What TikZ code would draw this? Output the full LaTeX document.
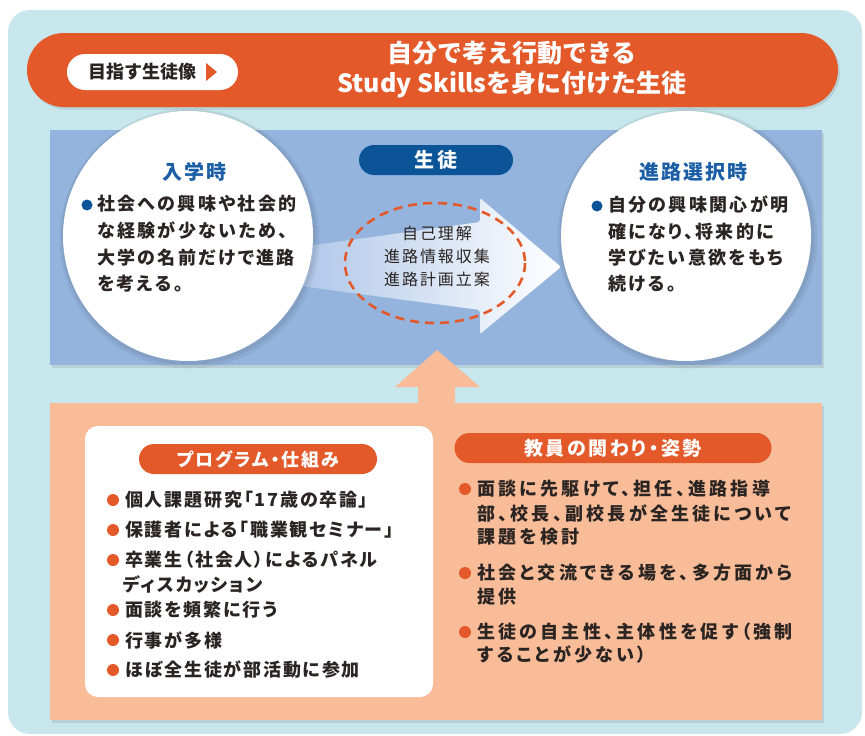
\documentclass[tikz,border=0pt]{standalone}
\usepackage{fontspec}
\usetikzlibrary{shadows}
\setmainfont{Noto Sans CJK JP}
\newfontfamily\jpa{Noto Sans CJK JP}[RawFeature=+palt, LetterSpace=10]
\newfontfamily\jpk{Noto Sans CJK JP}[RawFeature=+palt, LetterSpace=13]
\newfontfamily\jpr{Noto Sans CJK JP}[RawFeature=+palt, LetterSpace=18]
\newfontfamily\jpc{Noto Sans CJK JP}[LetterSpace=12]
\newfontfamily\jpt{Noto Sans CJK JP}[LetterSpace=16]
\newfontfamily\jp{Noto Sans CJK JP}
\definecolor{bgblue}{HTML}{C7E7ED}
\definecolor{panelblue}{HTML}{94B4DD}
\definecolor{peach}{HTML}{F9BC98}
\definecolor{orng}{HTML}{E4592A}
\definecolor{dkblue}{HTML}{0B5497}
\definecolor{ttlblue}{HTML}{1B5EA6}
\definecolor{ink}{HTML}{2A2422}
\definecolor{arrowL}{HTML}{AFC7E9}
\newcommand\fsz[1]{\fontsize{#1}{#1}\selectfont}
\begin{document}
\begin{tikzpicture}[x=1pt,y=-1pt,
  every node/.style={inner sep=0pt},
  txtline/.style={anchor=west, font=\jpa\bfseries\fsz{18}, text=ink},
  cline/.style={anchor=west, font=\jpk\bfseries\fsz{18}, text=ink},
  rline/.style={anchor=west, font=\jpr\bfseries\fsz{18}, text=ink},
  pill/.style={fill=orng, rounded corners=15pt, minimum height=30pt, text=white, font=\jp\bfseries\fsz{19}},
  dotO/.style={circle, fill=orng, minimum size=12pt},
  dotB/.style={circle, fill=dkblue, minimum size=11pt},
  bigcirc/.style={circle, fill=white, minimum size=250pt},
  cttl/.style={font=\jpa\bfseries\fsz{20}, text=ttlblue},
  softshadow/.style={drop shadow={opacity=0.22, shadow xshift=2pt, shadow yshift=-2.5pt}}
]
\useasboundingbox (0,0) rectangle (865,736);
\fill[white] (0,0) rectangle (865,736);
% outer background
\fill[bgblue, rounded corners=22pt] (8,10) rectangle (862,734);
% top banner
\fill[orng, rounded corners=37pt, softshadow] (27,33) rectangle (838,107);
\fill[white, rounded corners=18pt] (67,54) rectangle (238,90);
\node[font=\jp\bfseries\fsz{18}, text=ink] (goal) at (142,72) {目指す生徒像};
\fill[orng] (206,63) -- (217,72) -- (206,81) -- cycle;
\node[font=\jp\bfseries\fsz{25}, text=white] (t1) at (512,53) {自分で考え行動できる};
\node[font=\jp\bfseries\fsz{25}, text=white] (t2) at (512,85) {Study Skillsを身に付けた生徒};
% blue panel
\fill[panelblue, softshadow] (50,130) rectangle (822,365);
% gradient arrow
\shade[left color=arrowL, right color=white, rounded corners=2pt]
  (300,247) -- (480,222) -- (480,198) -- (561,267) -- (480,334) -- (480,310) -- (300,286) -- cycle;
% dashed ellipse
\draw[orng, line width=2.6pt, dash pattern=on 9pt off 6pt] (435,263) ellipse [x radius=90, y radius=60];
\node[font=\jpc\fsz{16}, text=ink] (m1) at (437,233) {自己理解};
\node[font=\jpc\fsz{16}, text=ink] (m2) at (437,256) {進路情報収集};
\node[font=\jpc\fsz{16}, text=ink] (m3) at (437,279) {進路計画立案};
% student pill
\node[fill=dkblue, rounded corners=15pt, minimum width=154pt, minimum height=30pt, text=white, font=\jpt\bfseries\fsz{20}] (stu) at (436,160) {生徒};
% circle shadows
\foreach \cx in {188,686} {
  \fill[black, opacity=0.05] (\cx+1.5,238.5) circle[radius=130];
  \fill[black, opacity=0.06] (\cx+1,237.5) circle[radius=127.5];
}
% left circle
\node[bigcirc] (lc) at (188,236) {};
\node[cttl] (lct) at (194,172) {入学時};
\node[dotB] (lb) at (87,205) {};
\foreach \t [count=\i] in {社会への興味や社会的, な経験が少ないため、, 大学の名前だけで進路, を考える。}
  \node[cline] (lt\i) at (97,{204+26.7*(\i-1)}) {\t};
% right circle
\node[bigcirc] (rc) at (686,236) {};
\node[cttl] (rct) at (693,172) {進路選択時};
\node[dotB] (rb) at (597,206) {};
\foreach \t [count=\i] in {自分の興味関心が明, 確になり、将来的に, 学びたい意欲をもち, 続ける。}
  \node[cline] (rt\i) at (608,{205+26.3*(\i-1)}) {\t};
% up arrow
\fill[peach] (437,350) -- (480,387) -- (455,387) -- (455,404) -- (418,404) -- (418,387) -- (395,387) -- cycle;
% peach panel
\fill[peach, softshadow] (50,403) rectangle (822,720);
\fill[peach] (418,380) rectangle (455,410);
% white box
\fill[white, rounded corners=13pt] (85,426) rectangle (433,697);
\node[pill, minimum width=238pt, font=\jpa\bfseries\fsz{18}] (prog) at (258,459) {プログラム・仕組み};
\foreach \y [count=\i] in {500,530,560,610,640,670}
  \node[dotO] (pb\i) at (113,\y) {};
\node[txtline] (p1) at (125,500) {個人課題研究「17歳の卒論」};
\node[txtline] (p2) at (125,530) {保護者による「職業観セミナー」};
\node[txtline] (p3) at (125,560) {卒業生（社会人）によるパネル};
\node[txtline] (p3b) at (123,585) {ディスカッション};
\node[txtline] (p4) at (125,610) {面談を頻繁に行う};
\node[txtline] (p5) at (125,640) {行事が多様};
\node[txtline] (p6) at (125,670) {ほぼ全生徒が部活動に参加};
% teachers
\node[pill, minimum width=317pt, font=\jpk\bfseries\fsz{19}] (tch) at (613,448) {教員の関わり・姿勢};
\foreach \y [count=\i] in {489,573,632}
  \node[dotO] (qb\i) at (465,\y) {};
\node[rline] (q1) at (477,489) {面談に先駆けて、担任、進路指導};
\node[rline] (q1b) at (477,513) {部、校長、副校長が全生徒について};
\node[rline] (q1c) at (477,537) {課題を検討};
\node[rline] (q2) at (477,573) {社会と交流できる場を、多方面から};
\node[rline] (q2b) at (477,597) {提供};
\node[rline] (q3) at (477,632) {生徒の自主性、主体性を促す（強制};
\node[rline] (q3b) at (477,655) {することが少ない）};
\end{tikzpicture}
\end{document}
